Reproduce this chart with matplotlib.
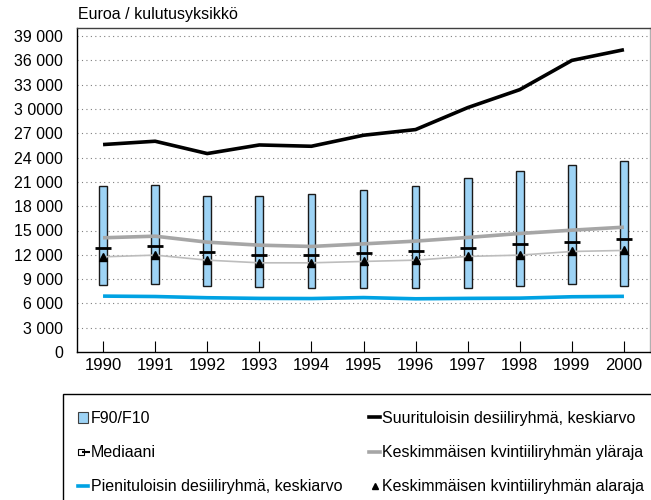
import matplotlib

matplotlib.use("Agg")
import matplotlib.pyplot as plt
from matplotlib.lines import Line2D
from matplotlib.patches import Patch, Rectangle
from matplotlib.legend_handler import HandlerTuple

plt.rcParams["font.family"] = ["Liberation Sans", "DejaVu Sans"]

YEARS = ["1990", "1991", "1992", "1993", "1994", "1995", "1996", "1997",
         "1998", "1999", "2000"]
F90 = [20470, 20670, 19320, 19320, 19520, 20060, 20510, 21450, 22360, 23140, 23590]
F10 = [8220, 8380, 8100, 7970, 7850, 7930, 7850, 7930, 8100, 8350, 8180]
MEDIAN = [12820, 13110, 12370, 12000, 11960, 12250, 12450, 12820, 13280, 13600, 13890]
TOP_DECILE = [25610, 26020, 24500, 25560, 25400, 26760, 27460, 30170, 32390, 36000, 37320]
LOW_DECILE = [6900, 6850, 6700, 6620, 6600, 6720, 6570, 6620, 6650, 6820, 6870]
MID_UPPER = [14100, 14300, 13560, 13190, 13030, 13350, 13690, 14140, 14630, 15040, 15410]
MID_LOWER = [11750, 11960, 11340, 11010, 11010, 11180, 11340, 11800, 11960, 12410, 12540]
YTICKS = list(range(0, 39001, 3000))
YLABELS = ["0", "3 000", "6 000", "9 000", "12 000", "15 000", "18 000", "21 000",
           "24 000", "27 000", "3 0000", "33 000", "36 000", "39 000"]

BLUE_BAR, BLUE_LINE = "#9DD3F5", "#00A2E3"
GREY_UP, GREY_LO = "#A6A6A6", "#BDBDBD"
FS = 11.5

fig = plt.figure(figsize=(6.51, 5.0), dpi=100)
ax = fig.add_axes([77 / 651, 1 - 352 / 500, 573 / 651, 324 / 500])

x = list(range(len(YEARS)))
heights = [t - b for t, b in zip(F90, F10)]
ax.bar(x, heights, bottom=F10, width=0.15, color=BLUE_BAR,
       edgecolor="#1A1A1A", linewidth=1.0, zorder=2)
ax.plot(x, TOP_DECILE, color="black", lw=2.6, zorder=4, solid_capstyle="butt")
ax.plot(x, LOW_DECILE, color=BLUE_LINE, lw=2.6, zorder=4, solid_capstyle="butt")
ax.plot(x, MID_UPPER, color=GREY_UP, lw=2.6, zorder=3, solid_capstyle="butt")
ax.plot(x, MID_LOWER, color=GREY_LO, lw=1.2, zorder=3)
ax.plot(x, MID_LOWER, ls="none", marker="^", ms=6, color="black", zorder=5)
ax.plot(x, MEDIAN, ls="none", marker="_", ms=11, mew=2, color="black", zorder=5)

for v in YTICKS[1:]:
    ax.axhline(v, color="#808080", lw=0.8, ls=(0, (1, 3)), zorder=1)

ax.set_xlim(-0.5, 10.5)
ax.set_ylim(0, 40000)
ax.set_yticks(YTICKS)
ax.set_yticklabels(YLABELS)
ax.set_xticks(x)
ax.set_xticklabels(YEARS)
ax.tick_params(axis="y", length=0, pad=10, labelsize=FS, colors="black")
ax.tick_params(axis="x", direction="in", length=8, width=0.8, pad=4,
               labelsize=12, colors="black")
ax.spines["left"].set_color("black")
ax.spines["bottom"].set_color("black")
ax.spines["top"].set_color("#404040")
ax.spines["right"].set_color("#B0B0B0")
for s in ax.spines.values():
    s.set_linewidth(1.0)

fig.text(78 / 651, 1 - 15 / 500, "Euroa / kulutusyksikkö", ha="left",
         va="center", fontsize=FS)

# legend frame runs off the bottom/right of the figure
fig.patches.append(Rectangle((63 / 651, -0.05), 0.95, (500 - 394) / 500 + 0.05,
                             transform=fig.transFigure, facecolor="white",
                             edgecolor="black", lw=1.0, zorder=0))

handles = [
    Patch(facecolor=BLUE_BAR, edgecolor="#404040", lw=0.8),
    (Line2D([], [], ls="none", marker="s", ms=5, mfc="white", mec="black", mew=0.8),
     Line2D([], [], ls="none", marker="_", ms=6, mew=1.5, color="black")),
    Line2D([], [], color=BLUE_LINE, lw=2.6),
    Line2D([], [], color="black", lw=2.6),
    Line2D([], [], color=GREY_UP, lw=2.6),
    Line2D([], [], ls="none", marker="^", ms=4, color="black"),
]
labels = ["F90/F10", "Mediaani", "Pienituloisin desiiliryhmä, keskiarvo",
          "Suurituloisin desiiliryhmä, keskiarvo",
          "Keskimmäisen kvintiiliryhmän yläraja",
          "Keskimmäisen kvintiiliryhmän alaraja"]
fig.legend(handles, labels, ncol=2, loc="upper left",
           bbox_to_anchor=(70 / 651, 1 - 403 / 500), frameon=False,
           fontsize=FS, handlelength=0.65, handletextpad=0.15,
           labelspacing=1.2, columnspacing=1.7, borderpad=0,
           handler_map={tuple: HandlerTuple(ndivide=None, pad=0)})

fig.savefig("out.png", dpi=100)
